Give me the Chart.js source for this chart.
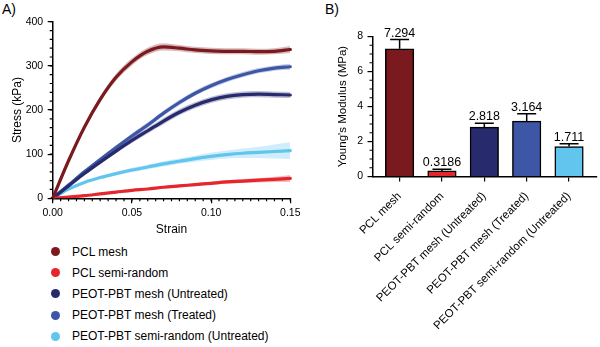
<!DOCTYPE html>
<html>
<head>
<meta charset="utf-8">
<script src="https://cdn.jsdelivr.net/npm/chart.js@4/dist/chart.umd.min.js"></script>
<style>
  body { margin: 0; background: #fff; width: 600px; height: 347px; position: relative; overflow: hidden;
         font-family: "Liberation Sans", Arial, sans-serif; color: #000; }
  #chartA { position: absolute; left: 0; top: 0; }
  #chartB { position: absolute; left: 300px; top: 0; }
  .panel { position: absolute; font-size: 14px; }
  .item { position: absolute; left: 50.5px; height: 14px; display: flex; align-items: center;
          font-size: 12px; white-space: nowrap; }
  .dot { width: 9px; height: 9px; border-radius: 50%; margin-right: 12.5px; }
</style>
</head>
<body>
<div class="panel" style="left:2px;top:1px">A)</div>
<div class="panel" style="left:325px;top:1px">B)</div>
<canvas id="chartA" width="300" height="240"></canvas>
<canvas id="chartB" width="300" height="347"></canvas>
<div id="legend"></div>

<script>
// ===== Data: stress-strain curves (panel A) =====
const strain = [0, 0.01, 0.02, 0.03, 0.04, 0.05, 0.06, 0.07, 0.08, 0.09, 0.10, 0.11, 0.12, 0.13, 0.14, 0.15];

const pclMesh   = [0, 85, 161, 224, 274, 309, 333, 343, 340, 336, 334, 333, 333, 332, 333, 337];
const pclSemi   = [0, 3, 6, 10, 14, 18, 21, 25, 28, 31, 34, 37, 39, 41, 43, 45];
const peotMeshU = [0, 28, 56, 82, 107, 131, 153, 175, 195, 211, 223, 231, 235, 236, 235, 234];
const peotMeshT = [0, 30, 60, 88, 115, 141, 166, 193, 217, 238, 255, 269, 280, 289, 295, 298];
const peotSemiU = [0, 21, 36, 47, 56, 64, 71, 78, 84, 90, 95, 99, 102, 104, 106, 108];

// shaded band half-widths (kPa)
const pclMeshSd   = [0, 4, 6, 7, 8, 8, 8, 8, 7, 7, 7, 7, 7, 7, 7, 8];
const pclSemiSd   = [0, 1, 1, 1, 1.5, 2, 2, 2.5, 3, 3, 3.5, 4, 4.5, 5, 6, 8];
const peotMeshUSd = [0, 2, 3, 4, 5, 6, 6, 7, 7, 7, 7, 7, 7, 7, 7, 7];
const peotMeshTSd = [0, 2, 3, 4, 5, 6, 6, 6, 6, 6, 6, 6, 6, 6, 6, 7];
const peotSemiUSd = [0, 1, 2, 3, 4, 5, 5, 6, 6, 7, 8, 9, 11, 13, 16, 19];

// ===== Data: Young's modulus (panel B) =====
const groups = ["PCL mesh", "PCL semi-random", "PEOT-PBT mesh (Untreated)", "PEOT-PBT mesh (Treated)", "PEOT-PBT semi-random (Untreated)"];
const moduli = [7.294, 0.3186, 2.818, 3.164, 1.711];
const moduliErr = [0.53, 0.09, 0.23, 0.42, 0.16];

const colors = ["#7b1a1e", "#e6262d", "#272a6d", "#3d56a6", "#61c5ee"];

Chart.defaults.font.family = '"Liberation Sans", Arial, sans-serif';
Chart.defaults.color = "#000";

function rgba(hex, a) {
    const n = parseInt(hex.slice(1), 16);
    return `rgba(${n >> 16}, ${(n >> 8) & 255}, ${n & 255}, ${a})`;
}

// minor tick marks on axes
const minorTicks = {
    id: "minorTicks",
    afterDraw(chart, args, opts) {
        const ctx = chart.ctx;
        ctx.save();
        ctx.strokeStyle = "#000";
        ctx.lineWidth = 1.2;
        ctx.beginPath();
        (opts.axes || []).forEach(a => {
            const s = chart.scales[a.id];
            const n = Math.round((s.max - s.min) / a.step);
            for (let i = 0; i <= n; i++) {
                const p = s.getPixelForValue(s.min + i * a.step);
                if (s.isHorizontal()) { ctx.moveTo(p, s.top); ctx.lineTo(p, s.top + a.len); }
                else { ctx.moveTo(s.right - a.len, p); ctx.lineTo(s.right, p); }
            }
        });
        ctx.stroke();
        ctx.restore();
    }
};

const axisGrid = { drawOnChartArea: false, tickLength: 5, color: "#000", lineWidth: 1.2, offset: false };
const axisBorder = { color: "#000", width: 1.5 };

// ===== Panel A =====
const means = [pclMesh, pclSemi, peotMeshU, peotMeshT, peotSemiU];
const sds = [pclMeshSd, pclSemiSd, peotMeshUSd, peotMeshTSd, peotSemiUSd];
const datasetsA = [];
means.forEach((m, k) => {
    const pts = f => strain.map((s, i) => ({ x: s, y: f(i) }));
    const common = { pointRadius: 0, cubicInterpolationMode: "monotone" };
    datasetsA.push({ ...common, data: pts(i => m[i] + sds[k][i]), fill: "+1",
        backgroundColor: rgba(colors[k], 0.3), borderColor: "rgba(0,0,0,0)", borderWidth: 1, order: 2 });
    datasetsA.push({ ...common, data: pts(i => m[i] - sds[k][i]), fill: false,
        borderColor: "rgba(0,0,0,0)", borderWidth: 1, order: 2 });
    datasetsA.push({ ...common, label: groups[k], data: pts(i => m[i]), fill: false,
        borderColor: colors[k], borderWidth: 3.2, borderCapStyle: "round", order: 1,
        clip: { left: 2, top: 5, right: 5, bottom: 0 } });
});

new Chart(document.getElementById("chartA"), {
    type: "line",
    data: { datasets: datasetsA },
    plugins: [minorTicks],
    options: {
        responsive: false,
        animation: false,
        layout: { padding: { left: 0, top: 21.7, right: 9.7, bottom: 0 } },
        plugins: {
            legend: { display: false },
            tooltip: { enabled: false },
            minorTicks: { axes: [{ id: "x", step: 0.005, len: 3 }, { id: "y", step: 20, len: 3 }] }
        },
        scales: {
            x: {
                type: "linear", min: 0, max: 0.15,
                ticks: { stepSize: 0.05, callback: v => v.toFixed(2), font: { size: 10.5 }, padding: 4, maxRotation: 0 },
                grid: axisGrid, border: axisBorder,
                title: { display: true, text: "Strain", font: { size: 12 }, padding: { top: 0, bottom: 3 } },
                afterFit: s => { s.height = 41.7; s.paddingLeft = 0; s.paddingRight = 0; }
            },
            y: {
                min: 0, max: 400,
                ticks: { stepSize: 100, font: { size: 10.5 }, padding: 4.5 },
                grid: axisGrid, border: axisBorder,
                title: { display: true, text: "Stress (kPa)", font: { size: 12 }, padding: { top: 10, bottom: 0 } },
                afterFit: s => { s.width = 52.7; s.paddingTop = 0; s.paddingBottom = 0; }
            }
        }
    }
});

// legend for panel A
const legend = document.getElementById("legend");
groups.forEach((g, i) => {
    const el = document.createElement("div");
    el.className = "item";
    el.style.top = (251.7 + 21.1 * i - 7) + "px";
    el.innerHTML = `<span class="dot" style="background:${colors[i]}"></span><span>${g}</span>`;
    legend.appendChild(el);
});

// ===== Panel B =====
const errorBars = {
    id: "errorBars",
    afterDatasetsDraw(chart) {
        const ctx = chart.ctx;
        const y = chart.scales.y;
        ctx.save();
        ctx.strokeStyle = "#000";
        ctx.fillStyle = "#000";
        ctx.lineWidth = 1.5;
        ctx.font = '12.5px "Liberation Sans", Arial, sans-serif';
        ctx.textAlign = "center";
        ctx.textBaseline = "alphabetic";
        chart.getDatasetMeta(0).data.forEach((bar, i) => {
            const top = y.getPixelForValue(moduli[i] + moduliErr[i]);
            ctx.beginPath();
            ctx.moveTo(bar.x, bar.y);
            ctx.lineTo(bar.x, top);
            ctx.moveTo(bar.x - 9.5, top);
            ctx.lineTo(bar.x + 9.5, top);
            ctx.stroke();
            ctx.fillText(String(moduli[i]), bar.x, top - 3);
        });
        ctx.restore();
    }
};

new Chart(document.getElementById("chartB"), {
    type: "bar",
    data: {
        datasets: [{
            data: groups.map((g, i) => ({ x: i, y: moduli[i] })),
            backgroundColor: colors,
            borderColor: "#000",
            borderWidth: 1.5,
            barThickness: 28.5
        }]
    },
    plugins: [minorTicks, errorBars],
    options: {
        responsive: false,
        animation: false,
        layout: { padding: { left: 0, top: 36.5, right: 3, bottom: 0 } },
        plugins: {
            legend: { display: false },
            tooltip: { enabled: false },
            minorTicks: { axes: [{ id: "y", step: 0.5, len: 3 }] }
        },
        scales: {
            x: {
                type: "linear", min: -0.64, max: 4.66, offset: false,
                afterBuildTicks: s => { s.ticks = groups.map((g, i) => ({ value: i })); },
                ticks: { callback: v => groups[v], autoSkip: false, minRotation: 45, maxRotation: 45,
                         font: { size: 11.5 }, padding: 8 },
                grid: axisGrid, border: axisBorder,
                afterFit: s => { s.height = 170.5; s.paddingLeft = 0; s.paddingRight = 0; }
            },
            y: {
                min: 0, max: 8,
                ticks: { stepSize: 2, font: { size: 10.5 }, padding: 4.5 },
                grid: axisGrid, border: axisBorder,
                title: { display: true, text: "Young's Modulus (MPa)", font: { size: 11.5 }, padding: { top: 36, bottom: 0 } },
                afterFit: s => { s.width = 72.5; s.paddingTop = 0; s.paddingBottom = 0; }
            }
        }
    }
});
</script>
</body>
</html>
